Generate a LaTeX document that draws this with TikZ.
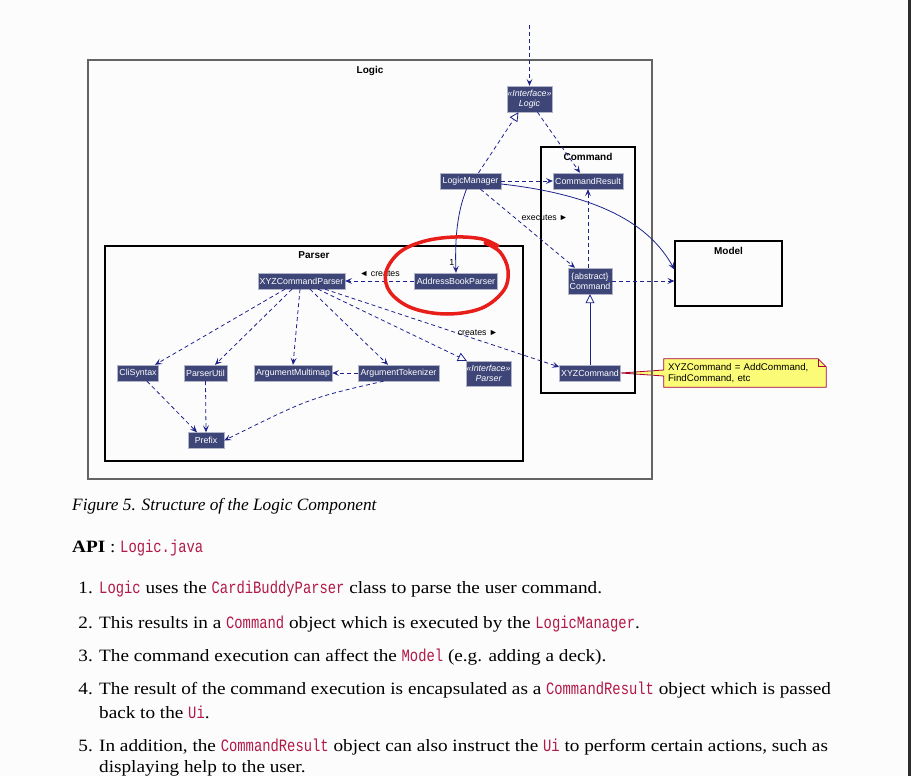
\documentclass[tikz,border=0pt]{standalone}
\usepackage{fontspec}
\setmainfont{Liberation Serif}
\newfontfamily\bodyfont{Liberation Serif}[FakeStretch=1.11]
\newfontfamily\umlfont{Liberation Sans}
\newfontfamily\codefont{Liberation Mono}[FakeStretch=0.8]
\usepackage{tikz}
\usetikzlibrary{arrows.meta,calc,backgrounds}

\definecolor{umlfill}{RGB}{62,70,120}
\definecolor{umlline}{RGB}{30,34,140}
\definecolor{framegrey}{RGB}{100,100,100}
\definecolor{notefill}{RGB}{251,251,119}
\definecolor{noteline}{RGB}{168,0,54}
\definecolor{codered}{RGB}{178,24,72}
\definecolor{markred}{RGB}{232,30,26}
\definecolor{pagebg}{RGB}{252,252,252}
\definecolor{barcol}{RGB}{45,45,45}

\newcommand{\code}[1]{{\codefont\color{codered}#1}}

\begin{document}
\begin{tikzpicture}[x=1pt,y=-1pt,
cls/.style={fill=umlfill,draw=umlfill!40,text=white,font=\umlfont\fontsize{8.8}{10}\selectfont,
  inner sep=0pt,minimum height=16pt,align=center},
iface/.style={cls,font=\umlfont\itshape\fontsize{8.8}{10}\selectfont},
frame/.style={draw=black,line width=1.2pt,inner sep=0pt},
framelabel/.style={font=\umlfont\bfseries\fontsize{10}{12}\selectfont,anchor=north,yshift=-3pt},
dep/.style={umlline,line width=0.8pt,dash pattern=on 4pt off 3pt,-{Stealth[length=7pt,width=6pt,inset=3pt]}},
real/.style={umlline,line width=0.8pt,dash pattern=on 4pt off 3pt,-{Triangle[open,length=9pt,width=9pt,fill=white]}},
inh/.style={umlline,line width=0.8pt,-{Triangle[open,length=9pt,width=9pt,fill=white]}},
assoc/.style={umlline,line width=0.8pt,-{Stealth[length=7pt,width=6pt,inset=3pt]}},
edgelabel/.style={font=\umlfont\fontsize{8.8}{10}\selectfont,text=black,inner sep=1pt},
body/.style={font=\bodyfont\fontsize{17.3}{20}\selectfont,anchor=base west,inner sep=0pt},
num/.style={font=\bodyfont\fontsize{17.3}{20}\selectfont,anchor=base east,inner sep=0pt}]

\path[use as bounding box] (0,0) rectangle (911,776);
\begin{scope}[on background layer]
\fill[pagebg] (0,0) rectangle (911,776);
\end{scope}
\fill[barcol] (908,0) rectangle (911,776);

\node[frame,draw=framegrey,minimum width=564,minimum height=419] (logicframe) at (370,269.5) {};
\node[framelabel] at (logicframe.north) {Logic};
\node[frame,minimum width=418,minimum height=215] (parserframe) at (314,353.5) {};
\node[framelabel] at (parserframe.north) {Parser};
\node[frame,minimum width=94,minimum height=246] (cmdframe) at (588,270) {};
\node[framelabel] at (cmdframe.north) {Command};
\node[frame,minimum width=107,minimum height=65] (model) at (728.5,273.5) {};
\node[framelabel] at (model.north) {Model};

\coordinate (ext) at (529.5,25);
\node[iface,minimum width=45,minimum height=26] (ilogic) at (529.5,99) {«Interface»\\Logic};
\node[cls,minimum width=61] (lmgr) at (470.5,181) {LogicManager};
\node[cls,minimum width=70] (cres) at (588,181) {CommandResult};
\node[cls,minimum width=44,minimum height=26] (cmd) at (590,281) {\{abstract\}\\Command};
\node[cls,minimum width=61] (xyzcmd) at (590,373) {XYZCommand};
\node[cls,minimum width=87] (xyzparser) at (301.5,281) {XYZCommandParser};
\node[cls,minimum width=83] (abparser) at (456,281) {AddressBookParser};
\node[cls,minimum width=41] (cli) at (138,373) {CliSyntax};
\node[cls,minimum width=43] (putil) at (205.5,373) {ParserUtil};
\node[cls,minimum width=78] (amap) at (293,373) {ArgumentMultimap};
\node[cls,minimum width=81] (atok) at (398.5,373) {ArgumentTokenizer};
\node[iface,minimum width=45,minimum height=25] (iparser) at (488.5,373.5) {«Interface»\\Parser};
\node[cls,minimum width=36] (prefix) at (206,440.5) {Prefix};

\node[font=\umlfont\fontsize{9.7}{11}\selectfont,text width=154pt,align=left,inner sep=4pt,
  minimum height=28pt] (note) at (745,373) {XYZCommand = AddCommand,\\FindCommand, etc};
\begin{scope}[on background layer]
\draw[noteline,fill=notefill,line width=0.8pt] (xyzcmd.east) -- ([yshift=3pt]note.west)
  |- ([xshift=-8pt]note.north east) -- ([yshift=-8pt]note.north east)
  |- (note.south west) -- ([yshift=-3pt]note.west) -- cycle;
\draw[noteline,line width=0.8pt] ([xshift=-8pt]note.north east) |- ([yshift=-8pt]note.north east);
\end{scope}

\draw[dep] (ext) -- (ilogic.north);
\draw[real] ($(lmgr.north)+(8,0)$) -- ($(ilogic.south)+(-11,0)$);
\draw[dep] ($(ilogic.south)+(8,0)$) -- ($(cres.north)+(-8,0)$);
\draw[dep] (lmgr.east) -- (cres.west);
\draw[assoc] ($(lmgr.east)+(0,3)$) .. controls (600,195) and (650,225) .. ($(model.west)+(0,-4)$);
\draw[assoc] ($(lmgr.south)+(-4,0)$) .. controls (456,215) and (455,245) .. (abparser.north)
  node[edgelabel,pos=0.88,anchor=east] {1};
\draw[dep] ($(lmgr.south)+(10,0)$) -- ($(cmd.north)+(-15,0)$)
  node[edgelabel,pos=0.42,anchor=west,yshift=4pt] {executes ►};
\draw[dep] (cres.south |- cmd.north) -- (cres.south);
\draw[dep] (cmd.east) -- (model.west |- cmd.east);
\draw[inh] (xyzcmd.north) -- (cmd.south);

\draw[dep] (abparser.west) -- (xyzparser.east)
  node[edgelabel,midway,anchor=south,yshift=3pt] {◄ creates};
\draw[dep] ($(xyzparser.south)+(23.5,0)$) -- ($(xyzcmd.west)+(0,-6)$)
  node[edgelabel,pos=0.652,anchor=south,yshift=3pt] {creates ►};
\draw[real] ($(xyzparser.south)+(16.5,0)$) -- ($(iparser.north west)+(1,0)$);
\draw[dep] ($(xyzparser.south)+(-16.5,0)$) -- ($(cli.north)+(17,0)$);
\draw[dep] ($(xyzparser.south)+(-9.5,0)$) -- ($(putil.north)+(9.5,0)$);
\draw[dep] ($(xyzparser.south)+(-1.5,0)$) -- (amap.north);
\draw[dep] ($(xyzparser.south)+(8.5,0)$) -- ($(atok.north)+(-10.5,0)$);
\draw[dep] (atok.west) -- (amap.east);
\draw[dep] ($(cli.south)+(9,0)$) -- ($(prefix.north)+(-9,0)$);
\draw[dep] (putil.south) -- (prefix.north);
\draw[dep] ($(atok.south)+(-15,0)$) .. controls (310,398) .. (prefix.east);

\draw[markred,line width=3.5pt,line cap=round,line join=round] plot[smooth,tension=0.6] coordinates {
  (498,246) (482,239) (455,237) (425,241) (400,252) (386,272) (390,292) (412,308)
  (447,314) (482,308) (504,290) (508,270) (500,252) (485,243)};

\node[body,font=\fontsize{17.3}{20}\selectfont\itshape] (caption) at (72,510) {Figure 5. Structure of the Logic Component};
\node[body] (api) at (72,552) {\textbf{API} : \code{Logic.java}};
\node[num] (n1) at (93,593) {1.};
\node[body] (item1) at (99,593) {\code{Logic} uses the \code{CardiBuddyParser} class to parse the user command.};
\node[num] (n2) at (93,628) {2.};
\node[body] (item2) at (99,628) {This results in a \code{Command} object which is executed by the \code{LogicManager}.};
\node[num] (n3) at (93,661) {3.};
\node[body] (item3) at (99,661) {The command execution can affect the \code{Model} (e.g. adding a deck).};
\node[num] (n4) at (93,694) {4.};
\node[body] (item4) at (99,694) {The result of the command execution is encapsulated as a \code{CommandResult} object which is passed};
\node[body] (item4b) at (99,718) {back to the \code{Ui}.};
\node[num] (n5) at (93,751) {5.};
\node[body] (item5) at (99,751) {In addition, the \code{CommandResult} object can also instruct the \code{Ui} to perform certain actions, such as};
\node[body] (item5b) at (99,772) {displaying help to the user.};
\end{tikzpicture}
\end{document}
